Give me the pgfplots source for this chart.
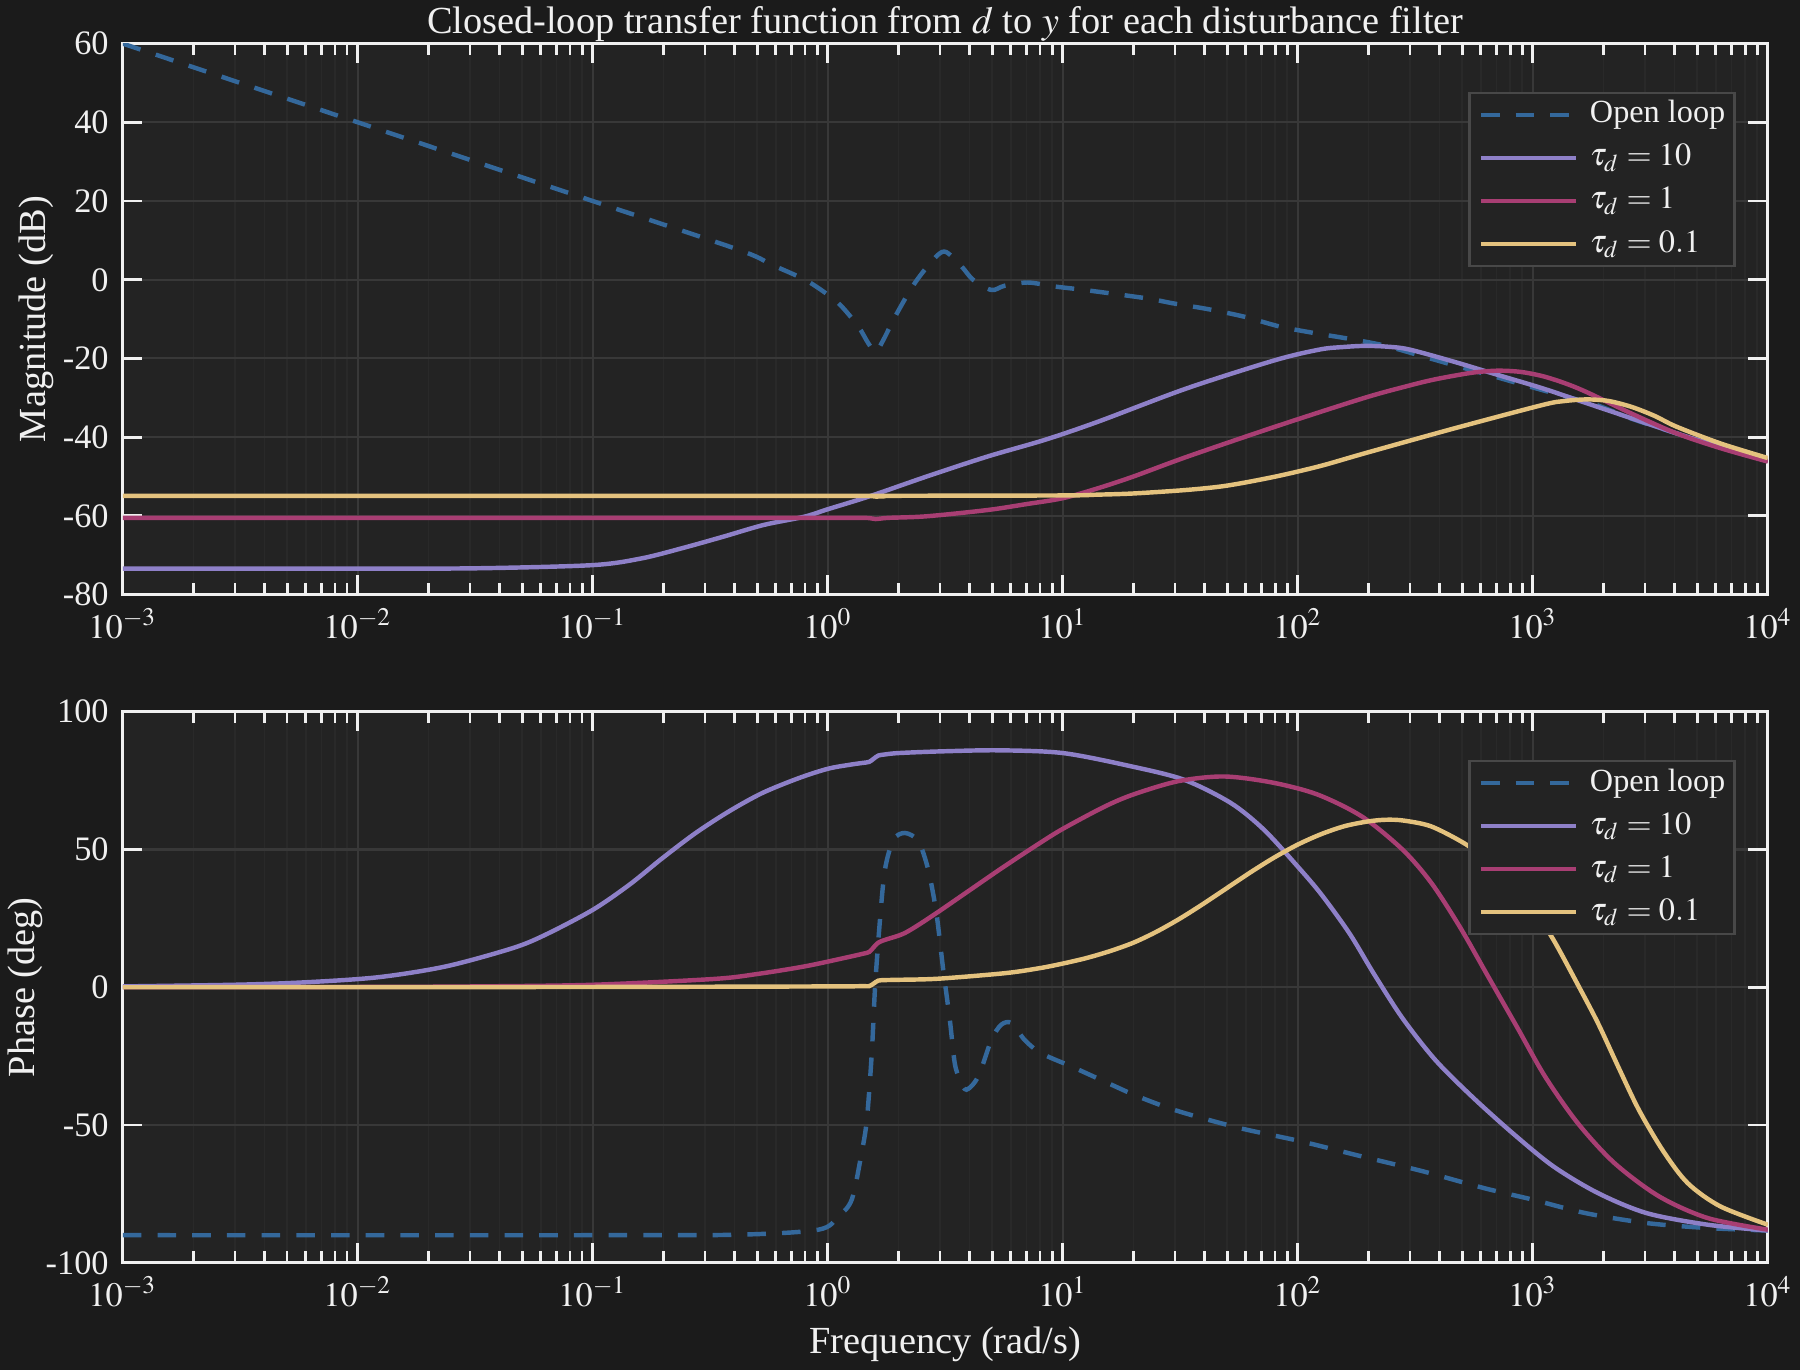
\documentclass[border=0pt]{standalone}
\usepackage{mathptmx}
\usepackage{fontspec}
\setmainfont{Liberation Serif}
\usepackage{pgfplots}
\pgfplotsset{compat=1.18}

\definecolor{figbg}{RGB}{27,27,27}
\definecolor{axbg}{RGB}{35,35,35}
\definecolor{gridmaj}{RGB}{56,56,56}
\definecolor{gridmin}{RGB}{41,41,41}
\definecolor{legdraw}{RGB}{72,72,72}
\definecolor{fg}{RGB}{240,240,240}
\definecolor{olblue}{RGB}{52,104,155}
\definecolor{tpurple}{RGB}{142,128,200}
\definecolor{tmagenta}{RGB}{168,62,115}
\definecolor{tyellow}{RGB}{228,194,126}

\newcommand\labfont{\fontsize{9.5}{11.4}\selectfont}
\newcommand\tickfont{\fontsize{8.5}{10}\selectfont}
\newcommand\legfont{\fontsize{8}{9.6}\selectfont}

\pgfplotsset{
  bode/.style={
    scale only axis, width=14.33cm, height=4.8cm,
    xmin=1e-3, xmax=1e4,
    xtick={1e-3,1e-2,1e-1,1,1e1,1e2,1e3,1e4},
    xticklabels={$10^{-3}$,$10^{-2}$,$10^{-1}$,$10^{0}$,$10^{1}$,$10^{2}$,$10^{3}$,$10^{4}$},
    axis background/.style={fill=axbg},
    axis line style={fg, line width=0.7pt},
    tick style={fg, line width=0.7pt},
    major tick length=0.17cm, minor tick length=0.1cm,
    tick align=inside, xtick pos=both, ytick pos=both,
    xticklabel pos=lower, yticklabel pos=left,
    grid=both,
    major grid style={gridmaj, line width=0.5pt},
    minor grid style={gridmin, line width=0.4pt},
    tick label style={font=\tickfont, text=fg},
    label style={font=\labfont, text=fg},
    title style={font=\labfont, text=fg, at={(axis description cs:0.5,1)}, anchor=base, yshift=-0.12cm},
    yticklabel style={/pgf/number format/assume math mode=true},
    legend style={at={(1,1)}, anchor=north east, xshift=-0.28cm, yshift=-0.42cm,
      fill=axbg, draw=legdraw, line width=0.6pt, text=fg, font=\legfont,
      inner xsep=0.08cm, inner ysep=0.06cm, row sep=0.115cm, column sep=0.1cm,
      nodes={inner sep=0pt, text height=0.2cm, text depth=0.06cm}},
    legend cell align=left,
    legend image code/.code={\draw[#1] (0cm,0cm) -- (0.83cm,0cm);},
    every axis plot/.append style={line width=1.1pt, smooth, tension=0.5},
  },
  olstyle/.style={olblue, dash pattern=on 4.6pt off 4pt},
}

\begin{document}
\begin{tikzpicture}
\useasboundingbox (-1.07,-11.55) rectangle (14.61,0.38);
\fill[figbg] (-1.07,-11.55) rectangle (14.61,0.38);

% magnitude
\begin{semilogxaxis}[bode, at={(0,0)}, anchor=north west,
  ymin=-80, ymax=60, ytick={-80,-60,-40,-20,0,20,40,60},
  ylabel={Magnitude (dB)},
  ylabel style={at={(axis description cs:0,0.5)}, anchor=center, yshift=0.75cm},
  title={Closed-loop transfer function from $d$ to $y$ for each disturbance filter}]
\addplot[olstyle] coordinates {
 (0.001,60) (0.01,40) (0.1,20) (0.418,7.6) (0.578,3.8) (0.80,0) (1.0,-3.8)
 (1.146,-6.8) (1.349,-11.9) (1.489,-16.2) (1.60,-18.3) (1.722,-15.3) (1.932,-9.4)
 (2.270,-2.1) (2.588,2.6) (2.951,6.4) (3.199,7.0) (3.707,3.4) (4.150,0) (4.966,-2.6)
 (5.662,-1.5) (7.112,-0.7) (9.204,-1.7) (12.76,-2.7) (22.59,-4.7) (29.51,-6.0)
 (41.78,-7.5) (59.29,-9.4) (83.95,-11.9) (119.1,-13.6) (161.4,-14.9) (229.1,-16.6)
 (324.3,-19.1) (460.3,-21.7) (651.6,-24.2) (924.7,-26.8) (1309,-29.3) (1858,-31.8)
 (2630,-35.3) (4074,-39.0) (6295,-42.5) (10000,-46)
};
\addlegendentry{Open loop}
\addplot[tpurple] coordinates {
 (0.001,-73.4) (0.01,-73.4) (0.0327,-73.3) (0.1,-72.5) (0.161,-70.8) (0.240,-68.2)
 (0.358,-65.3) (0.533,-62.3) (0.794,-60.2) (1,-58.3) (1.507,-55.0) (2.630,-50)
 (4.786,-44.9) (8.356,-40.7) (14.06,-36.1) (33.65,-27.6) (80.35,-20.4) (124.5,-17.7)
 (155,-17.1) (192.3,-16.8) (240,-17.0) (297.2,-17.7) (460.3,-20.8) (711.2,-24.2)
 (1102,-27.6) (1702,-31.4) (2630,-35.2) (4074,-39.0) (6295,-42.5) (10000,-46)
};
\addlegendentry{$\tau_d = 10$}
\addplot[tmagenta] coordinates {
 (0.001,-60.5) (0.1,-60.5) (1.0,-60.5) (1.45,-60.5) (1.6,-60.8) (1.8,-60.5)
 (2.63,-60.1) (4.786,-58.5) (7.0,-57.0) (10,-55.5) (14.06,-53) (19.95,-50)
 (33.65,-45) (80.35,-37.3) (192.3,-30.0) (297,-26.9) (370,-25.5) (460,-24.4)
 (571,-23.5) (711,-23.1) (885,-23.4) (1102,-24.5) (1371,-26.3) (1702,-28.6)
 (2630,-34) (4074,-39) (6295,-42.8) (10000,-46.2)
};
\addlegendentry{$\tau_d = 1$}
\addplot[tyellow] coordinates {
 (0.001,-54.9) (0.1,-54.9) (1.45,-54.9) (1.6,-55.1) (1.8,-54.9) (10,-54.8)
 (14.06,-54.6) (19.95,-54.3) (33.65,-53.4) (50,-52.3) (80.35,-50) (125,-47.3)
 (192.3,-44.1) (460.3,-37.8) (1102,-31.8) (1370,-30.8) (1702,-30.4) (2100,-30.8)
 (2630,-32.3) (3300,-34.6) (4074,-37.3) (6295,-41.6) (10000,-45.3)
};
\addlegendentry{$\tau_d = 0.1$}
\end{semilogxaxis}

% phase
\begin{semilogxaxis}[bode, at={(0,-5.82cm)}, anchor=north west,
  ymin=-100, ymax=100, ytick={-100,-50,0,50,100},
  ylabel={Phase (deg)},
  ylabel style={at={(axis description cs:0,0.5)}, anchor=center, yshift=0.85cm},
  xlabel={Frequency (rad/s)},
  xlabel style={at={(axis description cs:0.5,0)}, anchor=base, yshift=-0.79cm}]
\addplot[olstyle] coordinates {
 (0.001,-90) (0.1,-90) (0.42,-89.8) (0.912,-88) (1.109,-83.2) (1.265,-77) (1.393,-60)
 (1.466,-48) (1.538,-24) (1.589,0.3) (1.667,24.5) (1.750,42.7) (1.901,53.5) (2.128,56)
 (2.427,53) (2.673,42.7) (2.897,26.9) (3.097,6.4) (3.304,-11.8) (3.467,-27.5)
 (3.648,-33.6) (3.890,-37.2) (4.365,-32.4) (4.966,-19.1) (5.470,-13.6) (6.039,-13)
 (6.871,-19.1) (7.834,-23.3) (8.933,-25.7) (10.84,-28.7) (15.03,-34.2) (20.84,-39.6)
 (31.05,-45) (56.49,-51.1) (102.8,-55.9) (187.1,-61.4) (340.4,-66.8) (619.4,-72.9)
 (1000,-77.1) (1679,-82) (3055,-85.6) (5559,-87.4) (10000,-88.3)
};
\addlegendentry{Open loop}
\addplot[tpurple] coordinates {
 (0.001,0.3) (0.00316,0.95) (0.00631,1.9) (0.0124,3.7) (0.0238,7.6) (0.0456,14.2)
 (0.063,19.1) (0.1,28.1) (0.143,37.2) (0.198,46.9) (0.274,56) (0.379,63.8)
 (0.526,70.5) (0.752,75.9) (1.0,79.3) (1.25,80.8) (1.40,81.4) (1.50,81.8)
 (1.57,83.0) (1.64,84.1) (1.75,84.5) (2.0,85) (3.0,85.6) (5.3,86) (10,85)
 (19.5,80.2) (32.8,75.3) (51.8,66.9) (71.7,57.2) (99.4,44) (125.6,33.8) (166,19.5)
 (210.9,4.8) (278.6,-11.2) (383.7,-26.3) (549.5,-39.6) (818.5,-52.9) (1222,-65)
 (1892,-74.7) (3055,-82) (5559,-86.2) (10000,-88.3)
};
\addlegendentry{$\tau_d = 10$}
\addplot[tmagenta] coordinates {
 (0.001,0) (0.01,0.1) (0.0316,0.3) (0.1,0.9) (0.326,3.0) (0.5,4.8) (0.8,7.6)
 (1.2,10.8) (1.40,12.1) (1.50,12.8) (1.57,14.6) (1.64,16.2) (1.75,17.2) (2.128,19.7)
 (2.76,25.7) (3.98,35) (5.62,43.8) (7.94,52.2) (10,57.5) (15,65.5) (20,70) (31,74.8)
 (48.5,76.5) (77.8,74.3) (120.8,70) (187.1,62) (278.6,50) (368.9,38) (487.5,22.1)
 (644.2,4) (853,-14.2) (1127,-32.4) (1552,-49.3) (2223,-63.8) (3443,-75.9)
 (5559,-83.8) (10000,-88)
};
\addlegendentry{$\tau_d = 1$}
\addplot[tyellow] coordinates {
 (0.001,0) (0.01,0.05) (0.1,0.1) (1.0,0.3) (1.40,0.4) (1.50,0.4) (1.57,1.4)
 (1.64,2.4) (1.75,2.6) (2.0,2.7) (2.951,3.1) (5.662,5.1) (7.94,6.9) (10,8.6)
 (12.6,10.6) (15.85,13.1) (20,16.2) (25.1,20.2) (31.6,25) (39.8,30.4) (50.1,36.1)
 (63.1,41.8) (79.4,47.1) (100,51.8) (125.9,55.6) (158.5,58.5) (199.5,60.2)
 (237.7,60.8) (281.8,60.5) (368.9,58.4) (507,52.4) (631,46.5) (794,38.5)
 (1000,28.5) (1222,17.3) (1552,1) (1892,-13) (2312,-29) (2825,-44.5) (3589,-59.5)
 (4560,-71.1) (6266,-79.5) (10000,-86.2)
};
\addlegendentry{$\tau_d = 0.1$}
\end{semilogxaxis}
\end{tikzpicture}
\end{document}
